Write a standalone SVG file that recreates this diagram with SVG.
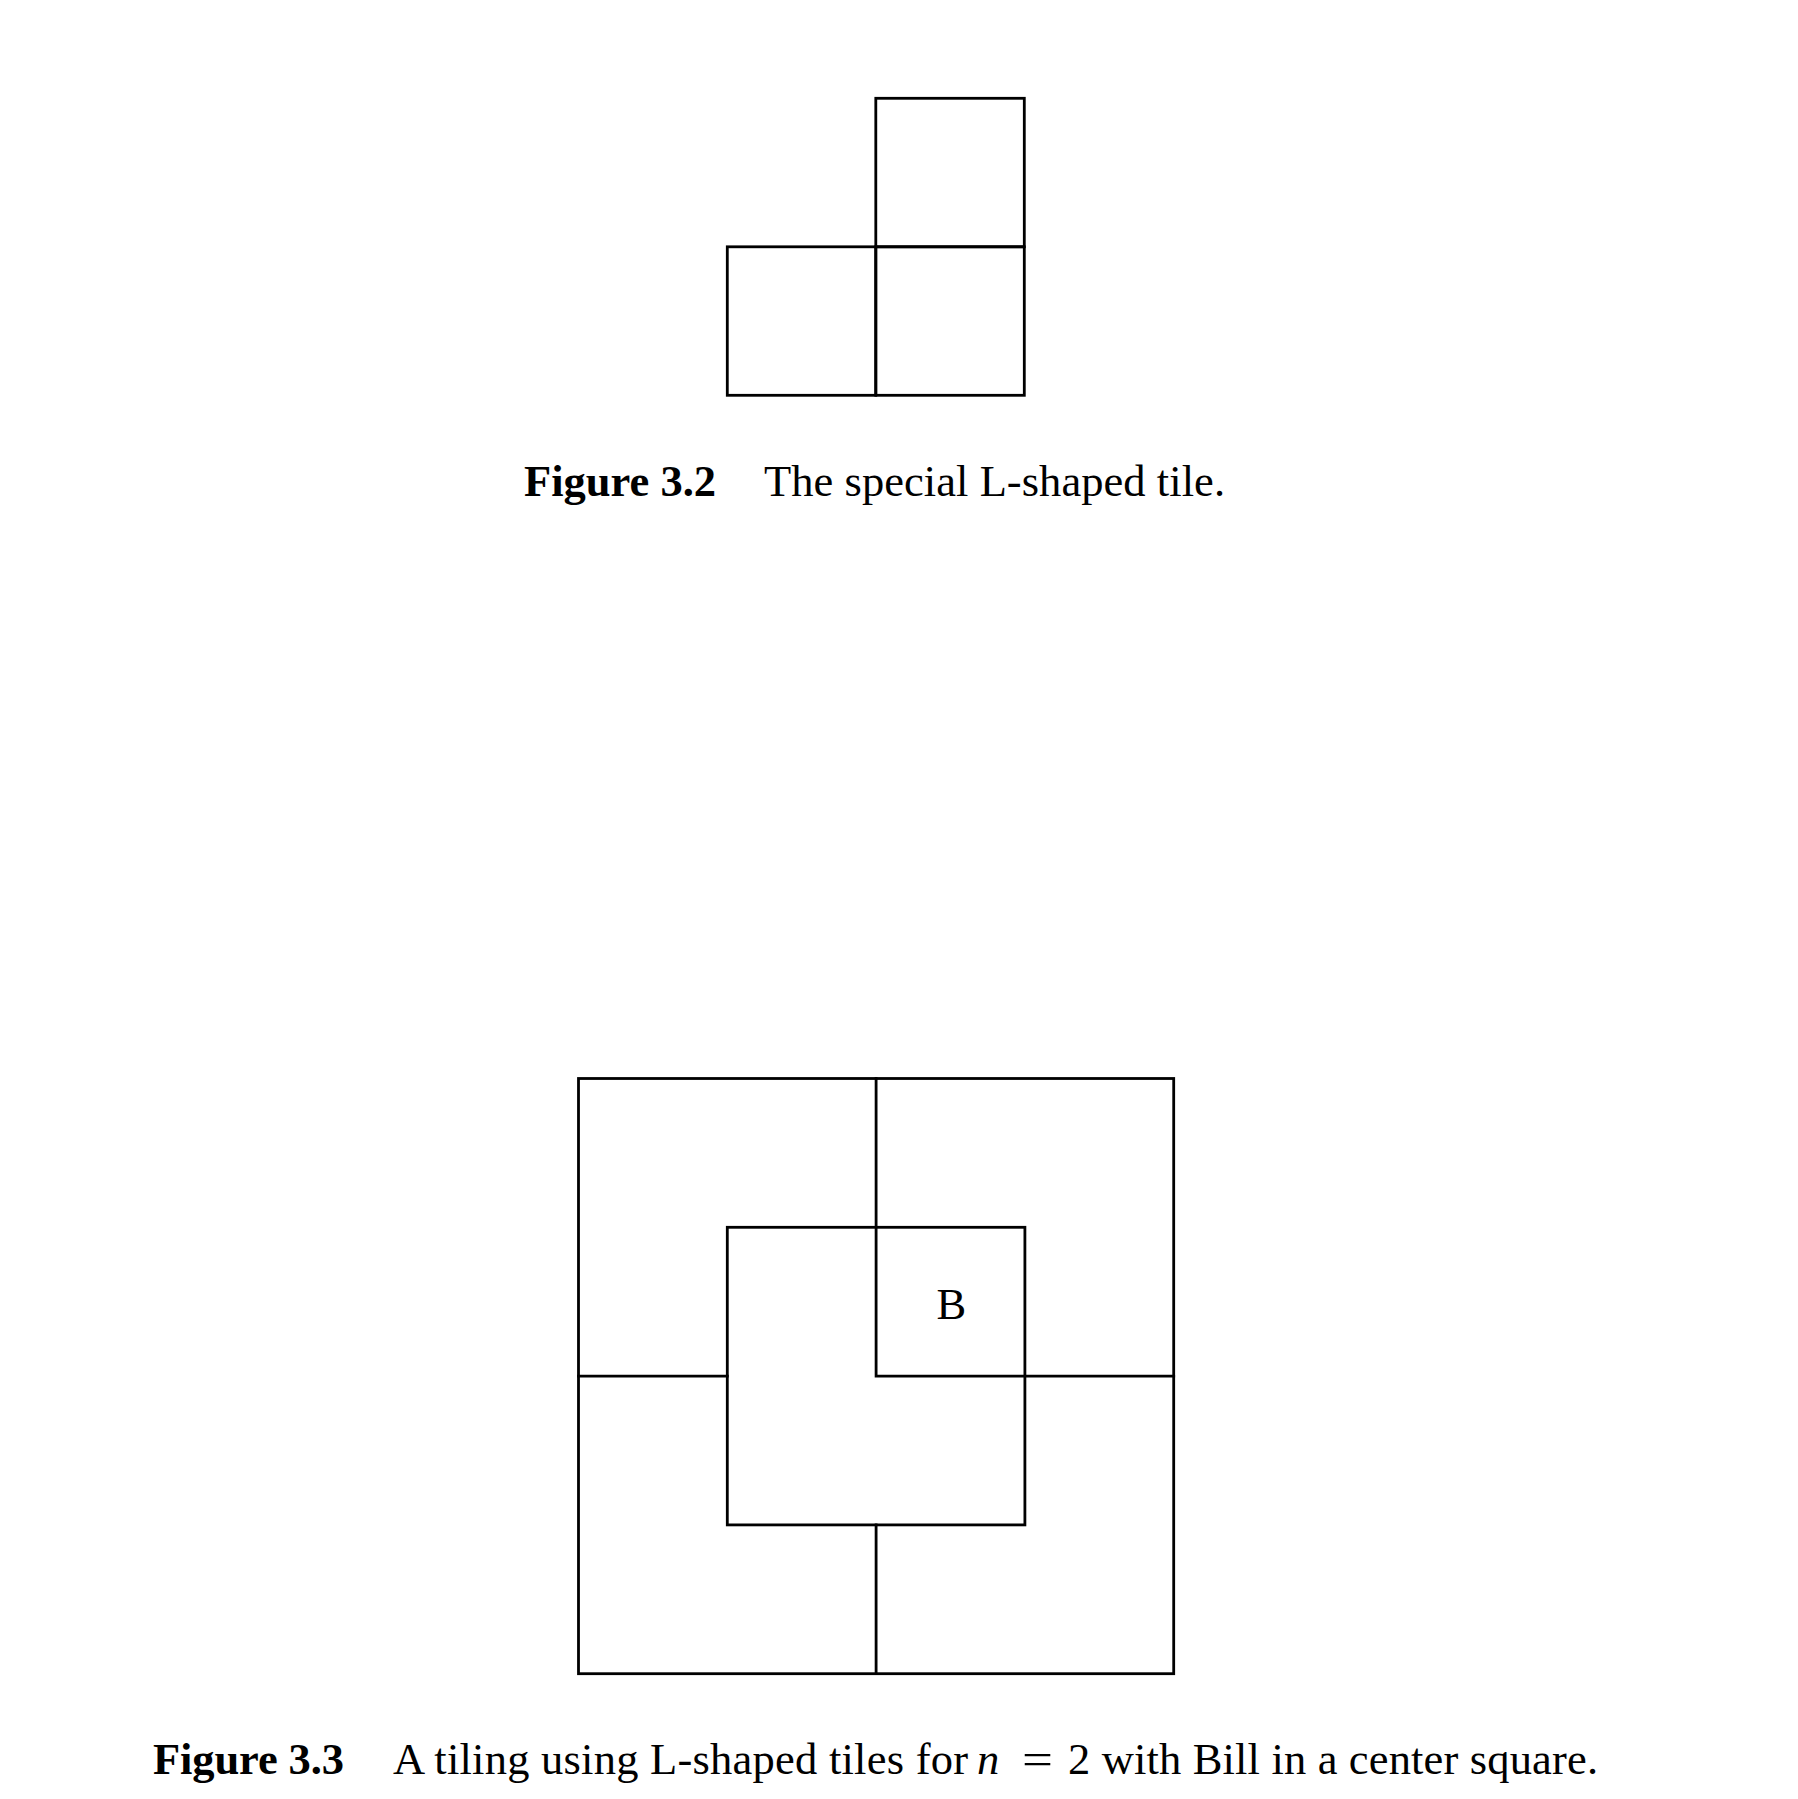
<svg xmlns="http://www.w3.org/2000/svg" width="1798" height="1799" viewBox="0 0 1798 1799">
<style>
.ln{fill:none;stroke:#000;stroke-width:2.8;stroke-linecap:square}
.t{font-family:"Liberation Serif","Times New Roman",serif;font-size:44.5px;fill:#000}
.b{font-weight:bold}
.i{font-style:italic}
</style>
<rect width="1798" height="1799" fill="#fff"/>
<g id="fig32-tile">
<rect class="ln" x="875.8" y="98.3" width="148.5" height="148.5"/>
<rect class="ln" x="727.3" y="246.8" width="148.5" height="148.5"/>
<rect class="ln" x="875.8" y="246.8" width="148.5" height="148.5"/>
</g>
<g id="fig32-caption">
<text class="t b" x="524" y="496" textLength="192">Figure 3.2</text>
<text class="t" x="764" y="496" textLength="461">The special L-shaped tile.</text>
</g>
<g id="fig33-tiling">
<rect class="ln" x="578.5" y="1078.5" width="595.2" height="595.2"/>
<rect class="ln" x="727.3" y="1227.3" width="297.6" height="297.6"/>
<path class="ln" d="M876.1 1078.5V1376.1H1024.9M578.5 1376.1H727.3M1024.9 1376.1H1173.7M876.1 1524.9V1673.7"/>
<text class="t" x="951.3" y="1319" text-anchor="middle">B</text>
</g>
<g id="fig33-caption">
<text class="t b" x="153" y="1774" textLength="191">Figure 3.3</text>
<text class="t" x="393" y="1774" textLength="575">A tiling using L-shaped tiles for</text>
<text class="t i" x="977" y="1774">n</text>
<text class="t" x="1022" y="1774" textLength="31" lengthAdjust="spacingAndGlyphs">=</text>
<text class="t" x="1068" y="1774" textLength="530">2 with Bill in a center square.</text>
</g>
</svg>
